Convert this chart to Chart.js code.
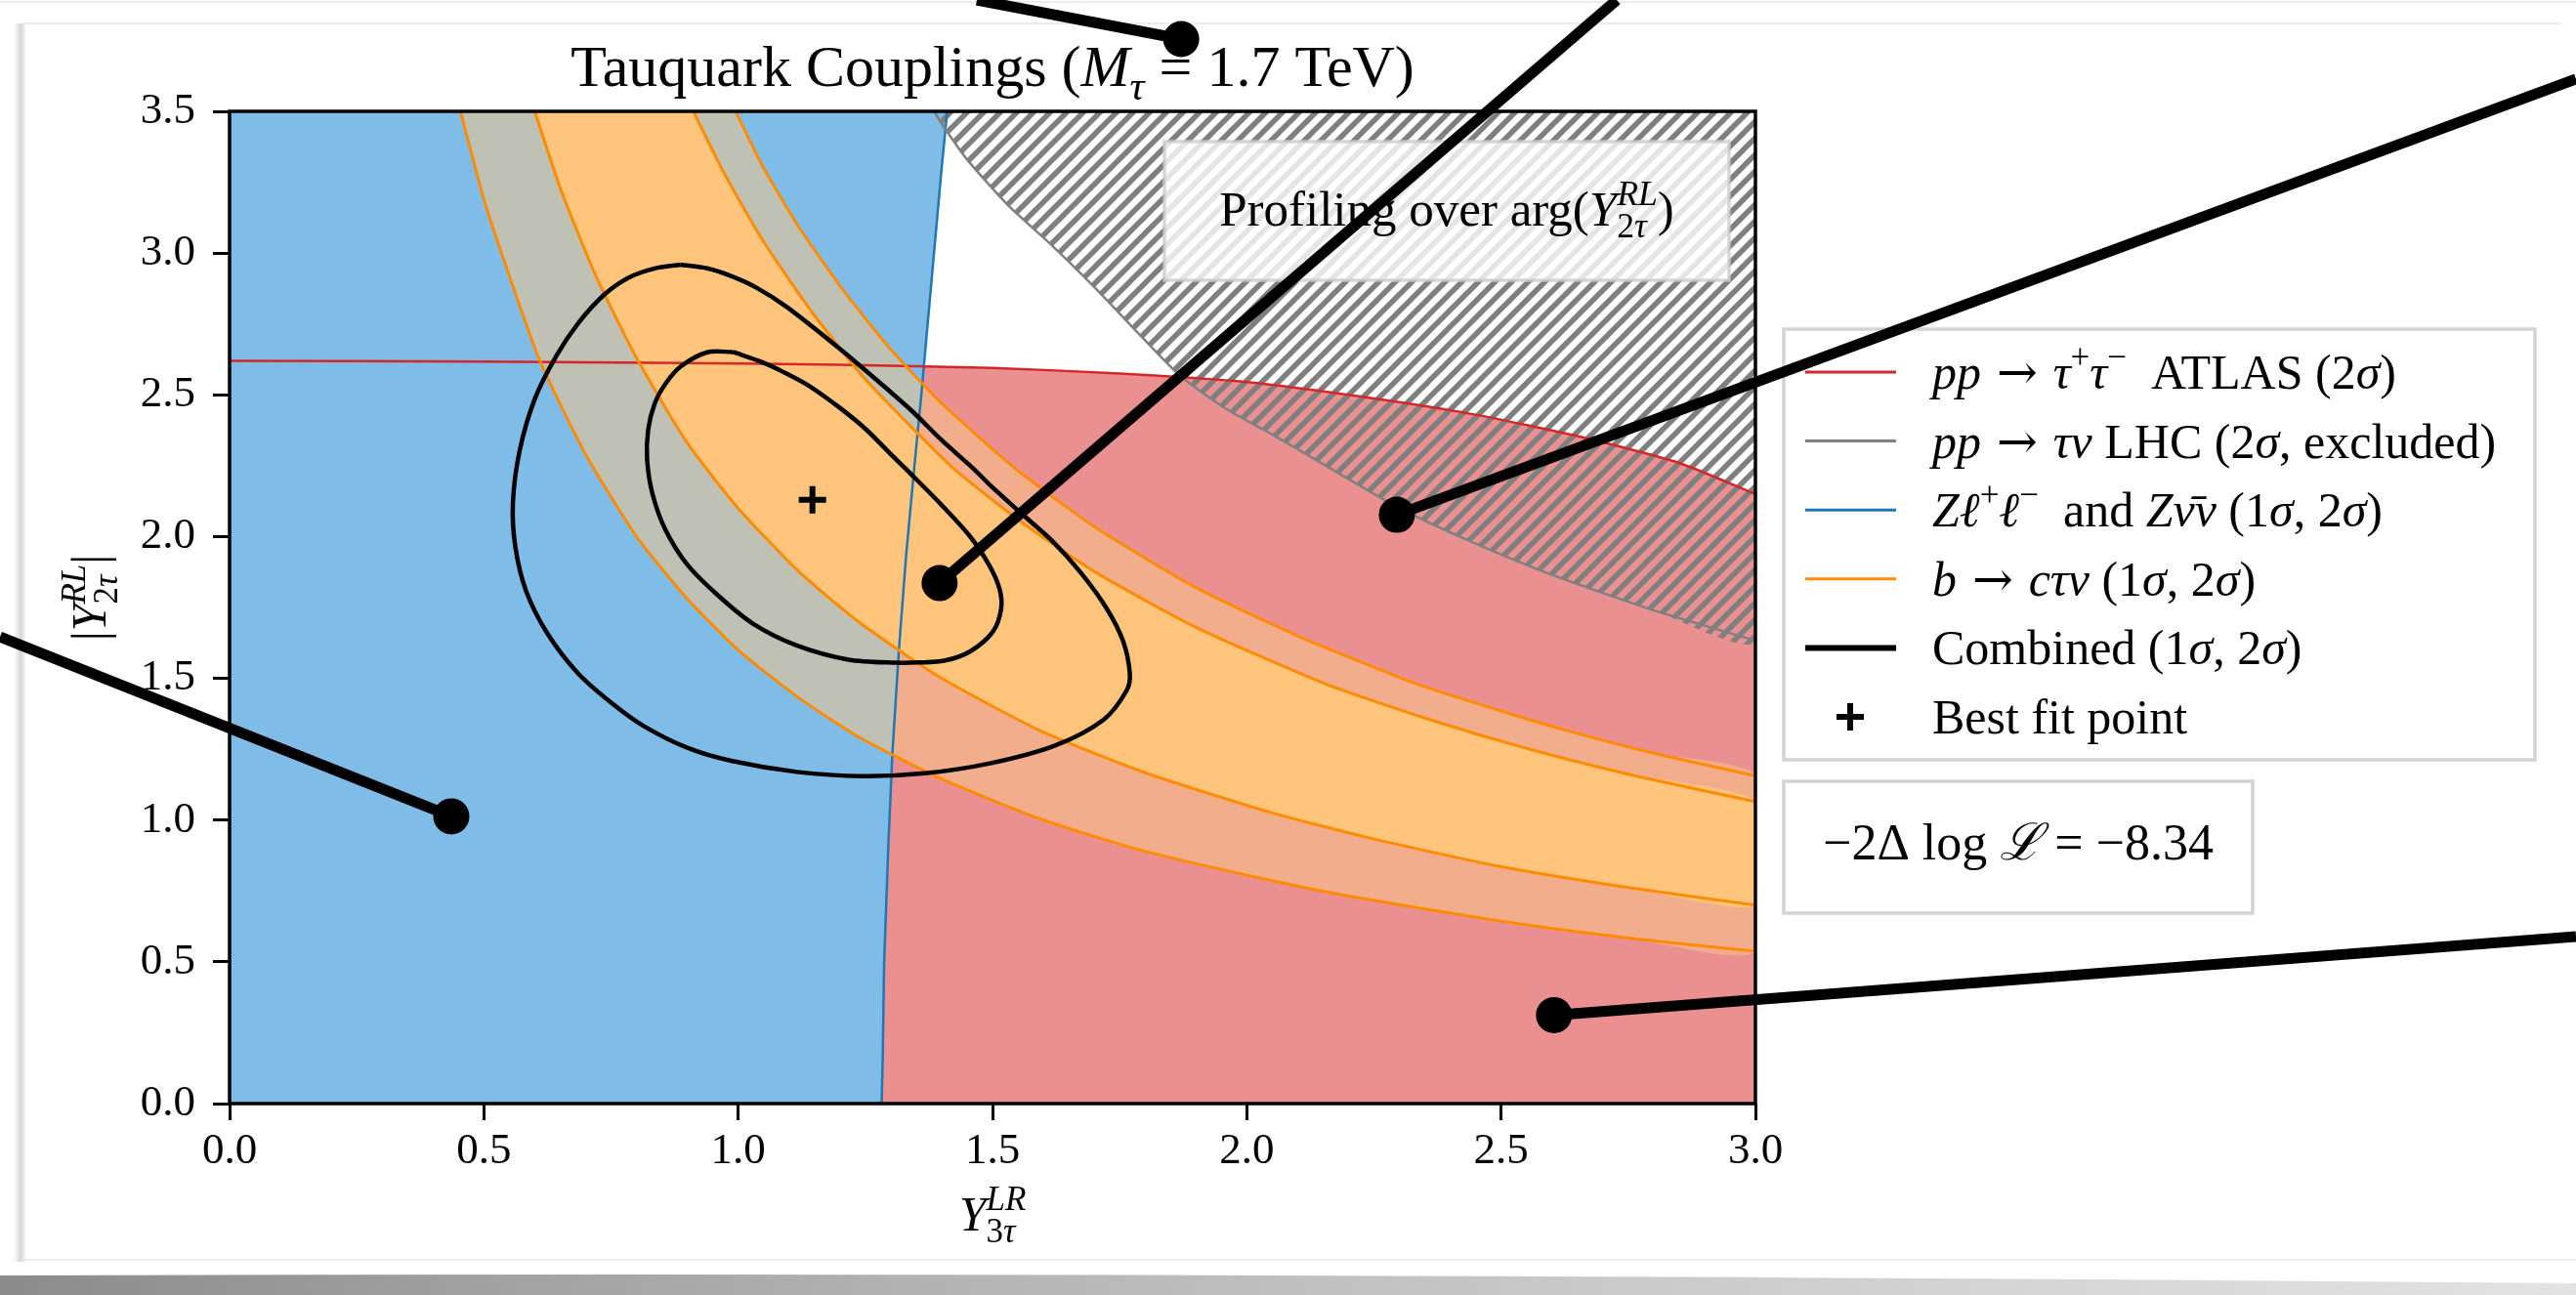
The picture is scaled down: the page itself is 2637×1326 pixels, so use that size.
<!DOCTYPE html>
<html>
<head>
<meta charset="utf-8">
<script src="https://cdn.jsdelivr.net/npm/chart.js@4.4.9/dist/chart.umd.min.js"></script>
<style>
  html, body { margin: 0; padding: 0; background: #fff; overflow: hidden; }
  canvas { display: block; }
</style>
</head>
<body>
<canvas id="chart" width="2637" height="1326"></canvas>
<script>
// axis ticks
const xTicks = [0, 0.5, 1, 1.5, 2, 2.5, 3];
const yTicks = [0, 0.5, 1, 1.5, 2, 2.5, 3, 3.5];

// pp -> tau tau ATLAS 2 sigma edge (excluded above)
const atlasEdge = [[0, 2.62], [0.5, 2.617], [0.9, 2.612], [1.2, 2.606], [1.5, 2.595], [1.75, 2.575], [2.0, 2.545],
  [2.24, 2.49], [2.45, 2.43], [2.66, 2.35], [2.85, 2.26], [3.0, 2.15]];
// Z l l / Z nu nu edge (allowed on the left)
const zEdge = [[1.282, 0], [1.284, 0.15], [1.287, 0.5], [1.295, 0.9], [1.303, 1.23], [1.316, 1.6], [1.33, 1.93],
  [1.346, 2.24], [1.36, 2.5], [1.375, 2.8], [1.39, 3.1], [1.40, 3.3], [1.411, 3.5]];
// pp -> tau nu LHC edge (excluded above, hatched)
const lhcEdge = [[1.385, 3.5], [1.41, 3.43], [1.45, 3.33], [1.53, 3.17], [1.615, 3.03], [1.70, 2.88], [1.78, 2.73],
  [1.867, 2.57], [1.96, 2.45], [2.06, 2.35], [2.166, 2.239], [2.30, 2.10], [2.45, 1.975], [2.60, 1.865], [2.80, 1.74], [3.0, 1.633]];
// b -> c tau nu band edges
const bLow2 = [[0.454, 3.5], [0.50, 3.19], [0.55, 2.92], [0.61, 2.62], [0.70, 2.29], [0.80, 2.00], [0.90, 1.78], [1.00, 1.60],
  [1.12, 1.43], [1.24, 1.29], [1.40, 1.145], [1.60, 1.00], [1.80, 0.89], [2.05, 0.786], [2.20, 0.732], [2.50, 0.643], [2.75, 0.584], [3.0, 0.537]];
const bLow1 = [[0.600, 3.5], [0.65, 3.23], [0.72, 2.92], [0.80, 2.63], [0.90, 2.33], [1.00, 2.10], [1.12, 1.875], [1.24, 1.695],
  [1.40, 1.50], [1.60, 1.31], [1.80, 1.167], [2.045, 1.028], [2.25, 0.933], [2.493, 0.838], [2.75, 0.762], [3.0, 0.700]];
const bUp1 = [[0.912, 3.5], [0.97, 3.29], [1.05, 3.04], [1.15, 2.78], [1.25, 2.555], [1.344, 2.38], [1.424, 2.24], [1.55, 2.06],
  [1.70, 1.877], [1.90, 1.68], [2.154, 1.481], [2.35, 1.36], [2.55, 1.253], [2.75, 1.162], [3.0, 1.065]];
const bUp2 = [[0.995, 3.5], [1.05, 3.30], [1.12, 3.09], [1.20, 2.885], [1.30, 2.66], [1.40, 2.47], [1.545, 2.24], [1.70, 2.035],
  [1.90, 1.82], [2.10, 1.65], [2.333, 1.481], [2.50, 1.385], [2.621, 1.320], [2.80, 1.236], [3.0, 1.156]];
// combined contours
const comb2 = [[0.887, 2.959], [0.836, 2.946], [0.784, 2.913], [0.737, 2.854], [0.686, 2.754], [0.643, 2.639], [0.600, 2.485],
  [0.570, 2.30], [0.557, 2.116], [0.562, 1.962], [0.583, 1.808], [0.626, 1.655], [0.686, 1.516], [0.754, 1.409], [0.814, 1.332],
  [0.900, 1.255], [0.986, 1.209], [1.115, 1.170], [1.243, 1.155], [1.367, 1.165], [1.495, 1.20], [1.623, 1.263], [1.719, 1.355],
  [1.764, 1.458], [1.770, 1.516], [1.757, 1.630], [1.725, 1.745], [1.674, 1.872], [1.616, 1.987], [1.559, 2.078], [1.495, 2.182],
  [1.463, 2.239], [1.40, 2.34], [1.344, 2.439], [1.286, 2.531], [1.200, 2.662], [1.097, 2.808], [1.037, 2.877], [0.986, 2.919], [0.939, 2.946]];
const comb1 = [[0.990, 2.651], [0.939, 2.650], [0.887, 2.60], [0.857, 2.539], [0.836, 2.470], [0.823, 2.377], [0.821, 2.27],
  [0.832, 2.147], [0.857, 2.024], [0.900, 1.901], [0.960, 1.793], [1.029, 1.693], [1.115, 1.616], [1.217, 1.566], [1.312, 1.555],
  [1.354, 1.556], [1.405, 1.562], [1.457, 1.596], [1.501, 1.665], [1.517, 1.745], [1.514, 1.814], [1.495, 1.894], [1.457, 1.998],
  [1.399, 2.113], [1.34, 2.22], [1.303, 2.285], [1.252, 2.377], [1.200, 2.454], [1.140, 2.531], [1.093, 2.577], [1.046, 2.616]];
const bestFit = [[1.146, 2.13]];

// callout dots (data units) and where their lines leave the picture (canvas px)
const calloutDots = [[1.871, 3.755], [1.396, 1.836], [2.295, 2.077], [0.436, 1.013], [2.604, 0.312]];
const calloutEnds = [[1000, 0], [1655, 0], [2637, 81], [0, 652], [2637, 959]];

const SERIF = '"Liberation Serif", "DejaVu Serif", serif';
const SYM = '"DejaVu Serif", serif';
const fontOf = (f, size) => (f.includes('i') ? 'italic ' : '') + size + 'px ' + (f.includes('d') ? SYM : SERIF);

const titleText = [['Tauquark Couplings (', ''], ['M', 'i'], ['τ', 'i_'], [' = 1.7 TeV)', '']];
const xTitle = [['Y', 'i'], ['LR', 'i^'], ['3', '_s'], ['τ', 'i_']];
const yTitle = [['|', ''], ['Y', 'i'], ['RL', 'i^'], ['2', '_s'], ['τ', 'i_'], ['|', '']];
const profText = [['Profiling over arg(', ''], ['Y', 'i'], ['RL', 'i^'], ['2', '_s'], ['τ', 'i_'], [')', '']];
const llhText = [['−2Δ log ', ''], ['ℒ', 'i'], [' = −8.34', '']];
const arrow = [' → ', 'd'];
const legendItems = [
  {kind: 'line', color: '#d62728', width: 3, text: [['pp', 'i'], arrow, ['τ', 'i'], ['+', '^'], ['τ', 'i'], ['−', '^'], ['  ATLAS (2', ''], ['σ', 'i'], [')', '']]},
  {kind: 'line', color: '#808080', width: 3, text: [['pp', 'i'], arrow, ['τν', 'i'], [' LHC (2', ''], ['σ', 'i'], [', excluded)', '']]},
  {kind: 'line', color: '#1f77b4', width: 3, text: [['Zℓ', 'i'], ['+', '^'], ['ℓ', 'i'], ['−', '^'], ['  and ', ''], ['Zν̄ν', 'i'], [' (1', ''], ['σ', 'i'], [', 2', ''], ['σ', 'i'], [')', '']]},
  {kind: 'line', color: '#FF8C00', width: 3, text: [['b', 'i'], arrow, ['cτν', 'i'], [' (1', ''], ['σ', 'i'], [', 2', ''], ['σ', 'i'], [')', '']]},
  {kind: 'line', color: '#000', width: 6, text: [['Combined (1', ''], ['σ', 'i'], [', 2', ''], ['σ', 'i'], [')', '']]},
  {kind: 'plus', color: '#000', width: 6, text: [['Best fit point', '']]}
];

function richLayout(ctx, parts, size) {
  let x = 0, mark = 0, end = 0, prev = false;
  const out = [];
  for (const [t, f] of parts) {
    const sup = f.includes('^'), sub = f.includes('_'), script = sup || sub;
    if (script && !prev) { mark = x; end = x; }
    if (f.includes('s')) x = mark;
    if (!script && prev) x = Math.max(x, end);
    ctx.font = fontOf(f, script ? size * 0.7 : size);
    out.push({t, x, dy: sup ? -size * 0.42 : sub ? size * 0.24 : 0, font: ctx.font});
    x += ctx.measureText(t).width;
    if (script) end = Math.max(end, x);
    prev = script;
  }
  if (prev) x = Math.max(x, end);
  return {out, width: x};
}

function drawRich(ctx, parts, x, y, size, align) {
  const {out, width} = richLayout(ctx, parts, size);
  const x0 = align === 'center' ? x - width / 2 : x;
  ctx.fillStyle = '#000';
  ctx.textBaseline = 'alphabetic';
  ctx.textAlign = 'left';
  for (const o of out) {
    ctx.font = o.font;
    ctx.fillText(o.t, x0 + o.x, y + o.dy);
  }
}

function hatchPattern() {
  const p = 17, c = document.createElement('canvas');
  c.width = c.height = p;
  const g = c.getContext('2d');
  g.strokeStyle = '#7f7f7f';
  g.lineWidth = 5.5;
  g.beginPath();
  g.moveTo(0, p); g.lineTo(p, 0);
  g.moveTo(-p / 2, p / 2); g.lineTo(p / 2, -p / 2);
  g.moveTo(p / 2, p * 1.5); g.lineTo(p * 1.5, p / 2);
  g.stroke();
  return g.createPattern(c, 'repeat');
}

const pts = a => a.map(([x, y]) => ({x, y}));

const layers = [
  {data: [[0, 0], ...atlasEdge, [3, 0]], fill: 'shape', backgroundColor: '#EA9090'},
  {data: [[0, 0], ...zEdge, [0, 3.5]], fill: 'shape', backgroundColor: '#7FBCE8'},
  {data: [...lhcEdge, [3, 3.5]], fill: 'shape', backgroundColor: hatchPattern(), tension: 0.2},
  {data: [...bLow2, ...bUp2.slice().reverse()], fill: 'shape', backgroundColor: 'rgba(249,199,136,0.53)', tension: 0.2},
  {data: [...bLow1, ...bUp1.slice().reverse()], fill: 'shape', backgroundColor: '#FFC57D', tension: 0.2},
  {data: zEdge, borderColor: '#1f77b4', borderWidth: 2.5},
  {data: lhcEdge, borderColor: '#808080', borderWidth: 2.5, tension: 0.2},
  {data: atlasEdge, borderColor: '#d62728', borderWidth: 2.5, tension: 0.2},
  ...[bLow2, bLow1, bUp1, bUp2].map(d => ({data: d, borderColor: '#FF8C00', borderWidth: 3, tension: 0.2})),
  {data: [...comb2, comb2[0]], borderColor: '#000', borderWidth: 4.5, tension: 0.3},
  {data: [...comb1, comb1[0]], borderColor: '#000', borderWidth: 4.5, tension: 0.3},
  {data: bestFit, showLine: false, pointStyle: 'cross', pointRadius: 14, borderWidth: 6, borderColor: '#000'}
];

const datasets = layers.map((l, i) => Object.assign({
  borderWidth: 0, borderColor: 'rgba(0,0,0,0)', backgroundColor: 'rgba(0,0,0,0)',
  fill: false, tension: 0, pointRadius: 0, order: layers.length - i
}, l, {data: pts(l.data)}));

const decor = {
  id: 'decor',
  beforeDraw(chart) {
    const ctx = chart.ctx, W = chart.width, H = chart.height;
    ctx.save();
    ctx.fillStyle = '#fff';
    ctx.fillRect(0, 0, W, H);
    // page shadow at the bottom
    const gx = ctx.createLinearGradient(0, 0, W, 0);
    gx.addColorStop(0, 'rgba(90,90,90,0.7)');
    gx.addColorStop(0.45, 'rgba(120,120,120,0.5)');
    gx.addColorStop(1, 'rgba(160,160,160,0.3)');
    ctx.fillStyle = gx;
    ctx.beginPath();
    ctx.moveTo(0, 1306);
    ctx.quadraticCurveTo(W * 0.5, 1302, W, 1314);
    ctx.lineTo(W, H); ctx.lineTo(0, H);
    ctx.closePath();
    ctx.fill();
    ctx.fillStyle = '#fff';
    ctx.fillRect(0, 0, W, 1296);
    // card edges
    const gl = ctx.createLinearGradient(14, 0, 26, 0);
    gl.addColorStop(0, 'rgba(0,0,0,0)');
    gl.addColorStop(0.6, 'rgba(0,0,0,0.16)');
    gl.addColorStop(1, 'rgba(0,0,0,0.04)');
    ctx.fillStyle = gl;
    ctx.fillRect(14, 24, 12, 1268);
    ctx.strokeStyle = '#ececec';
    ctx.lineWidth = 2;
    ctx.beginPath();
    ctx.moveTo(24, 24); ctx.lineTo(2622, 24);
    ctx.moveTo(24, 1290); ctx.lineTo(W, 1290);
    ctx.moveTo(0, 2); ctx.lineTo(W, 2);
    ctx.stroke();
    ctx.restore();
  },
  afterDatasetsDraw(chart) {
    const {ctx, chartArea: a} = chart;
    ctx.save();
    ctx.strokeStyle = '#000';
    ctx.lineWidth = 3.5;
    ctx.strokeRect(a.left, a.top, a.right - a.left, a.bottom - a.top);
    ctx.restore();
  },
  afterDraw(chart) {
    const {ctx, chartArea: a, scales: {x, y}} = chart;
    ctx.save();
    const cx = (a.left + a.right) / 2;
    drawRich(ctx, titleText, cx, 88, 60, 'center');
    drawRich(ctx, xTitle, cx, 1260, 50, 'center');
    ctx.save();
    ctx.translate(108, 612);
    ctx.rotate(-Math.PI / 2);
    drawRich(ctx, yTitle, 0, 0, 50, 'center');
    ctx.restore();

    // profiling box
    ctx.fillStyle = 'rgba(255,255,255,0.8)';
    ctx.strokeStyle = 'rgba(204,204,204,0.8)';
    ctx.lineWidth = 3.5;
    ctx.fillRect(1192, 145, 578, 142);
    ctx.strokeRect(1192, 145, 578, 142);
    drawRich(ctx, profText, 1481, 231, 51, 'center');

    // legend
    ctx.fillStyle = '#fff';
    ctx.strokeStyle = '#d3d3d3';
    ctx.fillRect(1826, 337, 769, 441);
    ctx.strokeRect(1826, 337, 769, 441);
    legendItems.forEach((it, i) => {
      const ly = 381 + i * 70.6;
      ctx.strokeStyle = it.color;
      ctx.lineWidth = it.width;
      ctx.beginPath();
      if (it.kind === 'line') {
        ctx.moveTo(1848, ly); ctx.lineTo(1941, ly);
      } else {
        ctx.moveTo(1880, ly); ctx.lineTo(1908, ly);
        ctx.moveTo(1894, ly - 14); ctx.lineTo(1894, ly + 14);
      }
      ctx.stroke();
      drawRich(ctx, it.text, 1978, ly + 17, 50, 'left');
    });

    // likelihood box
    ctx.fillStyle = '#fff';
    ctx.strokeStyle = '#d3d3d3';
    ctx.lineWidth = 3.5;
    ctx.fillRect(1826, 800, 480, 135);
    ctx.strokeRect(1826, 800, 480, 135);
    drawRich(ctx, llhText, 2066, 880, 52, 'center');

    // callouts
    ctx.fillStyle = '#000';
    ctx.strokeStyle = '#000';
    ctx.lineWidth = 11;
    calloutDots.forEach(([dx, dy], i) => {
      const px = x.getPixelForValue(dx), py = y.getPixelForValue(dy);
      const [ex, ey] = calloutEnds[i];
      ctx.beginPath();
      ctx.moveTo(px, py); ctx.lineTo(ex, ey);
      ctx.stroke();
      ctx.beginPath();
      ctx.arc(px, py, 18.5, 0, Math.PI * 2);
      ctx.fill();
    });
    ctx.restore();
  }
};

const tickFont = {family: 'Liberation Serif', size: 45};

new Chart(document.getElementById('chart'), {
  type: 'line',
  data: {datasets},
  options: {
    responsive: false,
    animation: false,
    devicePixelRatio: 1,
    events: [],
    layout: {padding: {left: 0, top: 114, right: 840, bottom: 0}},
    plugins: {legend: {display: false}, tooltip: {enabled: false}, title: {display: false}},
    scales: {
      x: {
        type: 'linear', min: 0, max: 3,
        afterBuildTicks: s => { s.ticks = xTicks.map(v => ({value: v})); },
        afterFit: s => { s.height = 196; },
        grid: {drawOnChartArea: false, drawTicks: true, tickLength: 17, tickWidth: 3, tickColor: '#000'},
        border: {display: false},
        ticks: {font: tickFont, color: '#000', padding: 5, maxRotation: 0, autoSkip: false, callback: v => v.toFixed(1)}
      },
      y: {
        type: 'linear', min: 0, max: 3.5,
        afterBuildTicks: s => { s.ticks = yTicks.map(v => ({value: v})); },
        afterFit: s => { s.width = 235; },
        grid: {drawOnChartArea: false, drawTicks: true, tickLength: 17, tickWidth: 3, tickColor: '#000'},
        border: {display: false},
        ticks: {font: tickFont, color: '#000', padding: 18, autoSkip: false, callback: v => v.toFixed(1)}
      }
    }
  },
  plugins: [decor]
});
</script>
</body>
</html>
